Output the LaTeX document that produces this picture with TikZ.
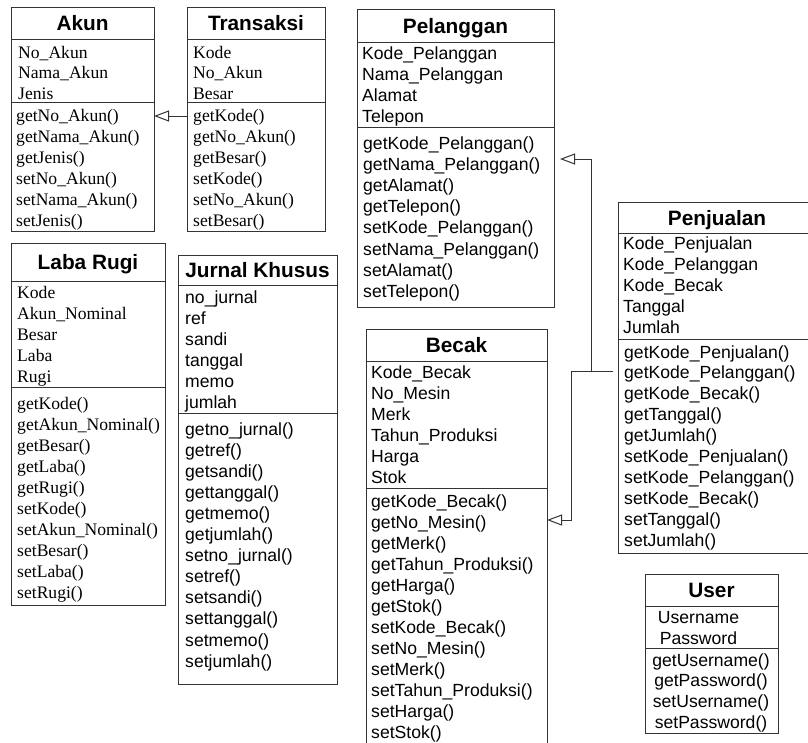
\documentclass[tikz,border=0pt]{standalone}
\usepackage{fontspec}
\usepackage{tikz}
\usetikzlibrary{arrows.meta}
\newfontfamily\arialfont{Liberation Sans}
\newfontfamily\timesfont{Liberation Serif}

\begin{document}
\begin{tikzpicture}[x=1pt, y=-1pt,
    box/.style={draw=black!80, line width=1pt, anchor=north west, inner sep=0, outer sep=0},
    div/.style={draw=black!80, line width=1pt},
    ttl/.style={font=\arialfont\fontsize{20.8}{24}\selectfont\bfseries, inner sep=0, text height=15pt, text depth=0pt},
    srow/.style={font=\timesfont\fontsize{17.6}{21}\selectfont, anchor=base west, inner sep=0},
    arow/.style={font=\arialfont\fontsize{17.6}{21}\selectfont, anchor=base west, inner sep=0},
    gen/.style={draw=black!80, line width=1pt, -{Triangle[open, length=15pt, width=11pt]}}]
    \useasboundingbox (0,0) rectangle (808,742);
    \clip (0,0) rectangle (808,742);

    % Akun
    \node[box, minimum width=143, minimum height=224] (akun) at (11,7) {};
    \draw[div] ([yshift=-32pt]akun.north west) -- ([yshift=-32pt]akun.north east);
    \draw[div] ([yshift=-95pt]akun.north west) -- ([yshift=-95pt]akun.north east);
    \node[ttl] (akun-t) at (82.5,23) {Akun};
    \foreach \t [count=\i from 0] in {No\_Akun, Nama\_Akun, Jenis}
        \node[srow] (akun-a\i) at (18,{58+20.5*\i}) {\t};
    \foreach \t [count=\i from 0] in {getNo\_Akun(), getNama\_Akun(), getJenis(), setNo\_Akun(), setNama\_Akun(), setJenis()}
        \node[srow] (akun-m\i) at (16,{121+21*\i}) {\t};

    % Transaksi
    \node[box, minimum width=138, minimum height=224] (transaksi) at (187,7) {};
    \draw[div] ([yshift=-32pt]transaksi.north west) -- ([yshift=-32pt]transaksi.north east);
    \draw[div] ([yshift=-95pt]transaksi.north west) -- ([yshift=-95pt]transaksi.north east);
    \node[ttl] (transaksi-t) at (256,23) {Transaksi};
    \foreach \t [count=\i from 0] in {Kode, No\_Akun, Besar}
        \node[srow] (transaksi-a\i) at (193,{58+20.5*\i}) {\t};
    \foreach \t [count=\i from 0] in {getKode(), getNo\_Akun(), getBesar(), setKode(), setNo\_Akun(), setBesar()}
        \node[srow] (transaksi-m\i) at (193,{121+21*\i}) {\t};

    % Pelanggan
    \node[box, minimum width=197, minimum height=298] (pelanggan) at (357,9) {};
    \draw[div] ([yshift=-33pt]pelanggan.north west) -- ([yshift=-33pt]pelanggan.north east);
    \draw[div] ([yshift=-118pt]pelanggan.north west) -- ([yshift=-118pt]pelanggan.north east);
    \node[ttl] (pelanggan-t) at (455.5,25.5) {Pelanggan};
    \foreach \t [count=\i from 0] in {Kode\_Pelanggan, Nama\_Pelanggan, Alamat, Telepon}
        \node[arow] (pelanggan-a\i) at (362,{59+21*\i}) {\t};
    \foreach \t [count=\i from 0] in {getKode\_Pelanggan(), getNama\_Pelanggan(), getAlamat(), getTelepon(),
                                      setKode\_Pelanggan(), setNama\_Pelanggan(), setAlamat(), setTelepon()}
        \node[arow] (pelanggan-m\i) at (363,{149+21.2*\i}) {\t};

    % Laba Rugi
    \node[box, minimum width=154, minimum height=362] (labarugi) at (11,243) {};
    \draw[div] ([yshift=-38pt]labarugi.north west) -- ([yshift=-38pt]labarugi.north east);
    \draw[div] ([yshift=-144pt]labarugi.north west) -- ([yshift=-144pt]labarugi.north east);
    \node[ttl] (labarugi-t) at (88,262) {Laba Rugi};
    \foreach \t [count=\i from 0] in {Kode, Akun\_Nominal, Besar, Laba, Rugi}
        \node[srow] (labarugi-a\i) at (17,{298+21.2*\i}) {\t};
    \foreach \t [count=\i from 0] in {getKode(), getAkun\_Nominal(), getBesar(), getLaba(), getRugi(),
                                      setKode(), setAkun\_Nominal(), setBesar(), setLaba(), setRugi()}
        \node[srow] (labarugi-m\i) at (17,{409+21.1*\i}) {\t};

    % Jurnal Khusus
    \node[box, minimum width=159, minimum height=429] (jurnal) at (178,255) {};
    \draw[div] ([yshift=-30pt]jurnal.north west) -- ([yshift=-30pt]jurnal.north east);
    \draw[div] ([yshift=-158pt]jurnal.north west) -- ([yshift=-158pt]jurnal.north east);
    \node[ttl] (jurnal-t) at (257.5,270) {Jurnal Khusus};
    \foreach \t [count=\i from 0] in {no\_jurnal, ref, sandi, tanggal, memo, jumlah}
        \node[arow] (jurnal-a\i) at (185,{303+21*\i}) {\t};
    \foreach \t [count=\i from 0] in {getno\_jurnal(), getref(), getsandi(), gettanggal(), getmemo(), getjumlah(),
                                      setno\_jurnal(), setref(), setsandi(), settanggal(), setmemo(), setjumlah()}
        \node[arow] (jurnal-m\i) at (185,{435+21.1*\i}) {\t};

    % Becak
    \node[box, minimum width=181, minimum height=430] (becak) at (366,329) {};
    \draw[div] ([yshift=-32pt]becak.north west) -- ([yshift=-32pt]becak.north east);
    \draw[div] ([yshift=-159pt]becak.north west) -- ([yshift=-159pt]becak.north east);
    \node[ttl] (becak-t) at (456.5,345) {Becak};
    \foreach \t [count=\i from 0] in {Kode\_Becak, No\_Mesin, Merk, Tahun\_Produksi, Harga, Stok}
        \node[arow] (becak-a\i) at (371,{378+21.1*\i}) {\t};
    \foreach \t [count=\i from 0] in {getKode\_Becak(), getNo\_Mesin(), getMerk(), getTahun\_Produksi(), getHarga(), getStok(),
                                      setKode\_Becak(), setNo\_Mesin(), setMerk(), setTahun\_Produksi(), setHarga(), setStok()}
        \node[arow] (becak-m\i) at (371,{507+21*\i}) {\t};

    % Penjualan
    \node[box, minimum width=200, minimum height=351] (penjualan) at (618,202) {};
    \draw[div] ([yshift=-31pt]penjualan.north west) -- ([yshift=-31pt]penjualan.north east);
    \draw[div] ([yshift=-137pt]penjualan.north west) -- ([yshift=-137pt]penjualan.north east);
    \node[ttl] (penjualan-t) at (717,217.5) {Penjualan};
    \foreach \t [count=\i from 0] in {Kode\_Penjualan, Kode\_Pelanggan, Kode\_Becak, Tanggal, Jumlah}
        \node[arow] (penjualan-a\i) at (623,{249+21.2*\i}) {\t};
    \foreach \t [count=\i from 0] in {getKode\_Penjualan(), getKode\_Pelanggan(), getKode\_Becak(), getTanggal(), getJumlah(),
                                      setKode\_Penjualan(), setKode\_Pelanggan(), setKode\_Becak(), setTanggal(), setJumlah()}
        \node[arow] (penjualan-m\i) at (624,{358+20.9*\i}) {\t};

    % User
    \node[box, minimum width=133, minimum height=159] (user) at (645,574) {};
    \draw[div] ([yshift=-32pt]user.north west) -- ([yshift=-32pt]user.north east);
    \draw[div] ([yshift=-74pt]user.north west) -- ([yshift=-74pt]user.north east);
    \node[ttl] (user-t) at (711.5,590) {User};
    \foreach \t [count=\i from 0] in {Username, Password}
        \node[arow, anchor=base] (user-a\i) at (698.5,{623+21*\i}) {\t};
    \foreach \t [count=\i from 0] in {getUsername(), getPassword(), setUsername(), setPassword()}
        \node[arow, anchor=base] (user-m\i) at (711,{666+20.7*\i}) {\t};

    % generalisasi
    \coordinate (up) at (591,159);
    \coordinate (down) at (571,520);
    \draw[gen] (transaksi.west |- 0,116) -- (akun.east |- 0,116);
    \draw[gen, shorten <=5pt, shorten >=6pt] (penjualan.west |- 0,371) -| (up) -- (pelanggan.east |- up);
    \draw[gen, shorten <=5pt] (penjualan.west |- 0,371) -| (down) -- (becak.east |- down);
\end{tikzpicture}
\end{document}
